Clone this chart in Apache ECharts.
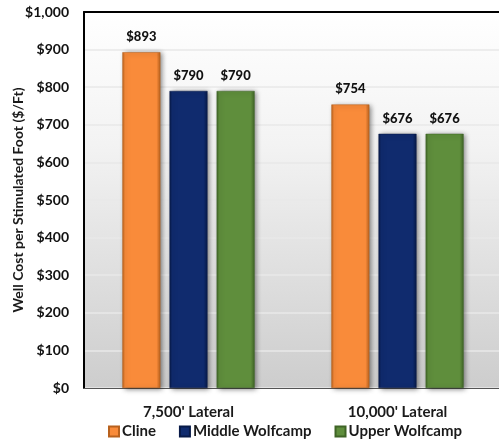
<!DOCTYPE html>
<html>
<head>
<meta charset="utf-8">
<style>
  html, body { margin: 0; padding: 0; background: #ffffff; }
  #chart { width: 499px; height: 444px; }
</style>
<script src="https://cdn.jsdelivr.net/npm/echarts@6/dist/echarts.min.js"></script>
</head>
<body>
<div id="chart"></div>
<script>
// Well cost per stimulated foot by lateral length and target zone
const categories = ["7,500' Lateral", "10,000' Lateral"];
const seriesNames = ['Cline', 'Middle Wolfcamp', 'Upper Wolfcamp'];
const clineCost = [893, 754];
const middleWolfcampCost = [790, 676];
const upperWolfcampCost = [790, 676];
const yTicks = [0, 100, 200, 300, 400, 500, 600, 700, 800, 900, 1000];

const FONT = 'Lato, "Open Sans", sans-serif';

// [edge shade, face colour]
const palette = {
  'Cline': ['#b8611d', '#f98b3a'],
  'Middle Wolfcamp': ['#081a48', '#102b6e'],
  'Upper Wolfcamp': ['#3f6426', '#5f8e3c']
};

function bevel(name) {
  const c = palette[name];
  return {
    type: 'linear', x: 0, y: 0, x2: 1, y2: 0,
    colorStops: [
      { offset: 0, color: c[0] },
      { offset: 0.07, color: c[1] },
      { offset: 0.9, color: c[1] },
      { offset: 1, color: c[0] }
    ]
  };
}

function makeSeries(name, values) {
  return {
    name: name,
    type: 'bar',
    data: values,
    barWidth: 38,
    barGap: '24%',
    itemStyle: {
      color: bevel(name),
      borderColor: palette[name][0],
      borderWidth: 0.5,
      shadowColor: 'rgba(0,0,0,0.5)',
      shadowBlur: 5,
      shadowOffsetX: 2,
      shadowOffsetY: 1
    },
    label: {
      show: true,
      position: 'top',
      distance: 9,
      formatter: p => '$' + p.value,
      fontFamily: FONT,
      fontWeight: 900,
      fontSize: 13,
      color: '#111'
    },
    z: 3
  };
}

const chart = echarts.init(document.getElementById('chart'), null, { renderer: 'canvas' });

chart.setOption({
  animation: false,
  backgroundColor: '#ffffff',
  grid: {
    left: 84, top: 12, right: -3, bottom: 56,
    outerBoundsMode: 'none',
    containLabel: false,
    show: true,
    borderWidth: 0,
    backgroundColor: {
      type: 'linear', x: 0, y: 0, x2: 0, y2: 1,
      colorStops: [
        { offset: 0, color: '#ffffff' },
        { offset: 0.35, color: '#f3f3f3' },
        { offset: 1, color: '#cdcdcd' }
      ]
    }
  },
  legend: {
    data: seriesNames.map(n => ({ name: n, icon: 'rect' })),
    bottom: 0,
    left: 103,
    itemWidth: 10,
    itemHeight: 10,
    itemGap: 23,
    textStyle: { fontFamily: FONT, fontSize: 15, color: '#1a1a1a', fontWeight: 'bold', padding: [0, 0, 0, -2] }
  },
  xAxis: [{
    type: 'category',
    data: categories,
    axisTick: { show: false },
    axisLine: { show: true, lineStyle: { color: '#555', width: 1 } },
    axisLabel: { fontFamily: FONT, fontSize: 15, fontWeight: 'bold', color: '#1a1a1a', margin: 17 },
    z: 1
  }, {
    type: 'category',
    position: 'top',
    data: categories,
    axisTick: { show: false },
    axisLabel: { show: false },
    axisLine: { show: true, lineStyle: { color: '#000', width: 2 } }
  }],
  yAxis: {
    type: 'value',
    min: yTicks[0],
    max: yTicks[yTicks.length - 1],
    interval: yTicks[1] - yTicks[0],
    name: 'Well Cost per Stimulated Foot ($/Ft)',
    nameLocation: 'middle',
    nameGap: 59,
    nameMoveOverlap: false,
    nameTextStyle: { fontFamily: FONT, fontSize: 14, fontWeight: 'bold', color: '#1a1a1a' },
    axisLine: { show: true, lineStyle: { color: '#000', width: 2 } },
    axisTick: { show: false },
    axisLabel: {
      formatter: v => '$' + v.toLocaleString('en-US'),
      fontFamily: FONT, fontSize: 14, fontWeight: 'bold', color: '#111', margin: 15
    },
    splitLine: { lineStyle: { color: '#e9e9e9', width: 1.5 } }
  },
  series: [
    makeSeries('Cline', clineCost),
    makeSeries('Middle Wolfcamp', middleWolfcampCost),
    makeSeries('Upper Wolfcamp', upperWolfcampCost)
  ]
});
</script>
</body>
</html>
